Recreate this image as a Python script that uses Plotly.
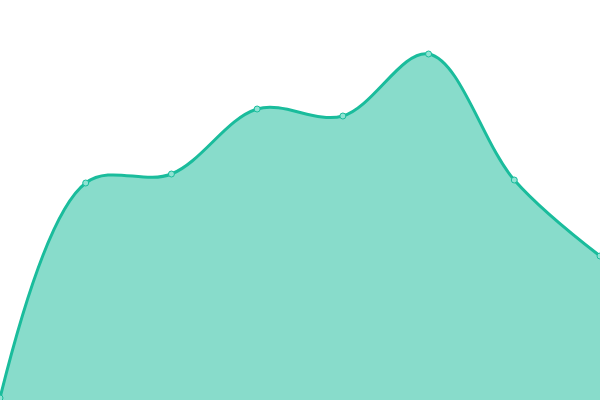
import plotly.graph_objs as go

# Значения
x_vals = [0, 1, 2, 3, 4, 5, 6, 7]
y_vals = [2, 217, 226, 291, 284, 346, 220, 144]

line_color = '#1abc9c'
fill_color = 'rgba(26, 188, 156, 0.52)'

data = [go.Scatter(
    x=x_vals,
    y=y_vals,
    mode='lines+markers',
    line=dict(color=line_color, width=3, shape='spline', smoothing=1),
    marker=dict(size=6, color='#8fe3d3', line=dict(color=line_color, width=1)),
    fill='tozeroy',
    fillcolor=fill_color,
    hoverinfo='skip',
)]

layout = go.Layout(
    width=600,
    height=400,
    margin=dict(l=0, r=0, b=0, t=0),
    paper_bgcolor='white',
    plot_bgcolor='white',
    showlegend=False,
    xaxis=dict(range=[0, 7], visible=False, fixedrange=True),
    yaxis=dict(range=[0, 400], visible=False, fixedrange=True),
)

fig = go.Figure(data=data, layout=layout)
# убираем отступ body, чтобы график начинался с угла окна
fig.write_html('out.html', config=dict(displayModeBar=False),
               post_script="document.body.style.margin='0';")
